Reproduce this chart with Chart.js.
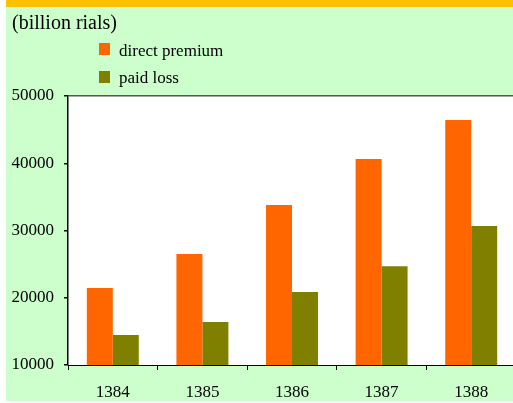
<!DOCTYPE html>
<html>
<head>
<meta charset="utf-8">
<script src="https://cdn.jsdelivr.net/npm/chart.js@4.4.1/dist/chart.umd.min.js"></script>
<style>
  html, body { margin: 0; padding: 0; background: #fff; overflow: hidden; width: 513px; height: 403px; }
  .panel {
    position: absolute; left: 6px; top: 0; width: 507px; height: 394px;
    background: #ccffcc; border-top: 7px solid #ffc000;
  }
  .wrap { position: absolute; left: 6px; top: 0; width: 510px; height: 401px; }
  .txt { position: absolute; font-family: "Liberation Serif", "DejaVu Serif", serif; color: #000; white-space: nowrap; }
  .title { left: 12px; top: 12px; font-size: 20px; line-height: 20px; }
  .lg { left: 119px; font-size: 17px; line-height: 17px; }
  .sw { position: absolute; left: 99px; width: 11px; height: 12px; }
</style>
</head>
<body>
<div class="panel"></div>
<div class="wrap"><canvas id="chart"></canvas></div>
<div class="txt title">(billion rials)</div>
<div class="sw" style="top:43px;background:#ff6600"></div>
<div class="txt lg" style="top:42px">direct premium</div>
<div class="sw" style="top:71px;background:#808000"></div>
<div class="txt lg" style="top:69px">paid loss</div>
<script>
// ---------------------- Data ----------------------
const years = ['1384', '1385', '1386', '1387', '1388'];
const directPremium = [21450, 26500, 33800, 40630, 46430];
const paidLoss = [14460, 16390, 20850, 24700, 30670];

const COLORS = { premium: '#ff6600', loss: '#808000' };
const FONT = { family: '"Liberation Serif", "DejaVu Serif", serif', size: 17 };

// white plot area
const plotBg = {
  id: 'plotBg',
  beforeDraw: (chart) => {
    const a = chart.chartArea;
    const c = chart.ctx;
    c.save();
    c.fillStyle = '#fff';
    c.fillRect(a.left, a.top, a.right - a.left, a.bottom - a.top);
    c.restore();
  },
};

// ---------------------- Chart ----------------------
const canvas = document.getElementById('chart');
canvas.width = 510;
canvas.height = 401;

new Chart(canvas, {
  type: 'bar',
  data: {
    labels: years,
    datasets: [
      { label: 'direct premium', data: directPremium, backgroundColor: COLORS.premium },
      { label: 'paid loss', data: paidLoss, backgroundColor: COLORS.loss },
    ],
  },
  options: {
    responsive: false,
    animation: false,
    devicePixelRatio: 1,
    layout: { padding: { top: 96, left: 0, right: 0, bottom: 0 } },
    datasets: { bar: { barPercentage: 1, categoryPercentage: 0.58, borderWidth: 0 } },
    plugins: { legend: { display: false }, tooltip: { enabled: false } },
    scales: {
      x: {
        grid: { offset: true, drawOnChartArea: false, drawTicks: true, tickLength: 5, tickColor: '#000' },
        border: { color: '#000', width: 1 },
        ticks: { color: '#000', font: FONT, padding: 12, maxRotation: 0 },
        afterFit: (scale) => { scale.height = 36; },
      },
      y: {
        min: 10000,
        max: 50000,
        grid: {
          color: (ctx) => (ctx.tick && ctx.tick.value === 50000 ? '#555' : 'rgba(0,0,0,0)'),
          lineWidth: 1.5,
          tickColor: '#000',
          tickLength: 4,
        },
        border: { color: '#000', width: 1.5 },
        ticks: { stepSize: 10000, color: '#000', font: FONT, padding: 10, callback: (v) => String(v) },
        afterFit: (scale) => { scale.width = 62; },
      },
    },
  },
  plugins: [plotBg],
});
</script>
</body>
</html>
